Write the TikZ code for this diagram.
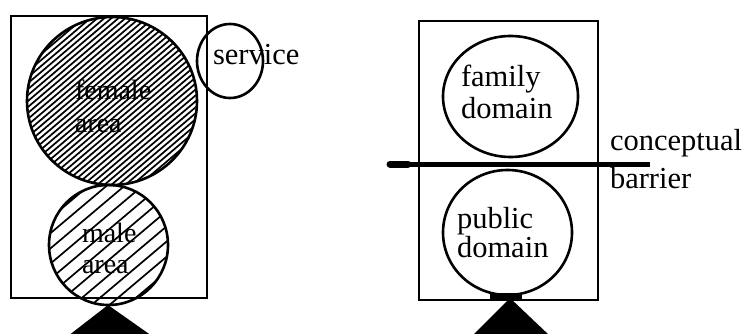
\documentclass[tikz,border=0pt]{standalone}
\usepackage{fontspec}
\setmainfont{Liberation Serif}
\usetikzlibrary{shapes.geometric}
\begin{document}
\begin{tikzpicture}[x=1pt,y=-1pt,
  outline/.style={draw=black,line width=2.6pt,inner sep=0pt,outer sep=0pt},
  ring/.style={outline,ellipse},
  box/.style={outline,rectangle},
  hatch/.style={line width=1.7pt},
  lbl/.style={inner sep=0pt,outer sep=0pt,align=left,font=\fontsize{30.5}{32}\selectfont},
  arealbl/.style={lbl,font=\fontsize{28}{31}\selectfont},
  sidelbl/.style={lbl,font=\fontsize{30.5}{38}\selectfont}]
\useasboundingbox[fill=white] (0,0) rectangle (746,334);

% hatching
\begin{scope}
  \clip (112,101) circle [radius=84pt];
  \foreach \d in {-280,-273,...,280}
    \draw[hatch] ({112+\d-120},{101+102}) -- ++(240,-204);
\end{scope}
\begin{scope}
  \clip (108.5,245) circle [radius=60pt];
  \foreach \d in {-216,-198,...,216}
    \draw[hatch] ({108.5+\d-90},{245+76}) -- ++(180,-152);
\end{scope}

% left figure
\node[box,minimum width=196,minimum height=282] (lrect) at (109,157) {};
\node[ring,minimum width=170,minimum height=168] (female) at (112,101) {};
\node[ring,minimum width=119,minimum height=120] (male) at (108.5,245) {};
\node[ring,minimum width=66,minimum height=74] (service) at (230,61) {};
\node[arealbl,anchor=north west] (femaletxt) at (75,80) {female\\[2pt]area};
\node[arealbl,anchor=north west] (maletxt) at (82,223) {male\\area};
\node[lbl,anchor=base west] (servicetxt) at (213,65) {service};
\fill (108,305) -- (68,336) -- (152,336) -- cycle;

% right figure
\node[box,minimum width=179,minimum height=279] (rrect) at (508.5,160.5) {};
\node[ring,minimum width=135,minimum height=121] (family) at (510.5,96.5) {};
\node[ring,minimum width=129,minimum height=125] (public) at (507.5,232.5) {};
\node[lbl,anchor=north west] (familytxt) at (461,65) {family\\domain};
\node[lbl,anchor=north west] (publictxt) at (457,207) {public\\[-3pt]domain};
\coordinate (barL) at (390,164);
\coordinate (barM) at (408,164);
\coordinate (barR) at (650,164);
\draw[line width=5pt] (barL) -- (barR);
\draw[line width=7pt,line cap=round] (barL) -- (barM);
\node[sidelbl,anchor=north west] (barriertxt) at (610,129) {conceptual\\barrier};
\fill (490,293) rectangle (522,300);
\fill (510,298) -- (472,336) -- (550,336) -- cycle;
\end{tikzpicture}
\end{document}
